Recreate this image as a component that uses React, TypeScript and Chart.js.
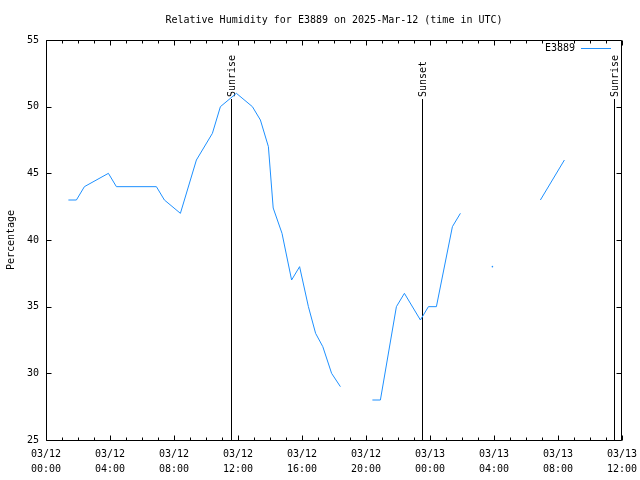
import React, { useEffect, useRef } from "react";
import { Chart, registerables } from "chart.js";

Chart.register(...registerables);

// ---- Data ----
const titleText = "Relative Humidity for E3889 on 2025-Mar-12 (time in UTC)";
const seriesLabel = "E3889";
const yAxisTitle = "Percentage";

// hours since 2025-03-12 00:00 UTC
const hours = [
  1.4, 1.9, 2.4, 3.9, 4.4, 6.9, 7.4, 8.4, 9.4, 10.4,
  10.9, 11.9, 12.9, 13.4, 13.9, 14.2, 14.75, 15.35, 15.85, 16.4,
  16.85, 17.3, 17.85, 18.4, 19.4, 20.4, 20.9, 21.9, 22.4, 23.4,
  23.9, 24.4, 25.4, 25.9, 26.9, 27.9, 28.9, 30.9, 32.4,
];
const humidity: (number | null)[] = [
  43, 43, 44, 45, 44, 44, 43, 42, 46, 48,
  50, 51, 50, 49, 47, 42.4, 40.5, 37, 38, 35,
  33, 32, 30, 29, null, 28, 28, 35, 36, 34,
  35, 35, 41, 42, null, 38, null, 43, 46,
];

const tickHours = [0, 4, 8, 12, 16, 20, 24, 28, 32, 36];
const tickDates = ["03/12", "03/12", "03/12", "03/12", "03/12", "03/12", "03/13", "03/13", "03/13", "03/13"];
const tickTimes = ["00:00", "04:00", "08:00", "12:00", "16:00", "20:00", "00:00", "04:00", "08:00", "12:00"];

const sunEventHours = [11.55, 23.5, 35.48];
const sunEventLabels = ["Sunrise", "Sunset", "Sunrise"];
const sunLineTop = 50.6;

const xMin = 0;
const xMax = 36;
const yMin = 25;
const yMax = 55;
const yStep = 5;

const lineColor = "#1e90ff";
const FONT = "DejaVu Sans Mono";

const al = (v: number) => Math.round(v) + 0.5;

const decorPlugin = {
  id: "decor",
  beforeDatasetsDraw(chart: any) {
    const { ctx, chartArea, scales } = chart;
    const { left, right, top, bottom } = chartArea;
    const xs = scales.x;
    const ys = scales.y;
    ctx.save();
    ctx.strokeStyle = "#000";
    ctx.lineWidth = 1;
    const L = al(left), R = al(right - 1), T = al(top), B = al(bottom);
    ctx.beginPath();
    ctx.rect(L, T, R - L, B - T);
    ctx.stroke();

    ctx.beginPath();
    // x ticks: minor each hour, major every 4 h
    for (let h = xMin; h <= xMax; h += 1) {
      const px = al(xs.getPixelForValue(h));
      const len = h % 4 === 0 ? 5 : 3;
      ctx.moveTo(px, B);
      ctx.lineTo(px, B - len);
      ctx.moveTo(px, T);
      ctx.lineTo(px, T + len);
    }
    // y ticks
    for (let v = yMin; v <= yMax; v += yStep) {
      const py = al(ys.getPixelForValue(v));
      ctx.moveTo(L, py);
      ctx.lineTo(L + 5, py);
      ctx.moveTo(R, py);
      ctx.lineTo(R - 5, py);
    }
    ctx.stroke();

    // sun events
    ctx.fillStyle = "#000";
    ctx.font = `10px "${FONT}"`;
    sunEventHours.forEach((h, i) => {
      const px = al(xs.getPixelForValue(h));
      const pTop = Math.round(ys.getPixelForValue(sunLineTop));
      ctx.beginPath();
      ctx.moveTo(px, pTop);
      ctx.lineTo(px, B);
      ctx.stroke();
      ctx.save();
      ctx.translate(px + 1, pTop - 2);
      ctx.rotate(-Math.PI / 2);
      ctx.textAlign = "left";
      ctx.textBaseline = "middle";
      ctx.fillText(sunEventLabels[i], 0, 0);
      ctx.restore();
    });

    // title
    ctx.textAlign = "center";
    ctx.textBaseline = "middle";
    ctx.fillText(titleText, (left + right) / 2, 20);

    // y axis title
    ctx.save();
    ctx.translate(11, (top + bottom) / 2);
    ctx.rotate(-Math.PI / 2);
    ctx.textAlign = "center";
    ctx.textBaseline = "middle";
    ctx.fillText(yAxisTitle, 0, 0);
    ctx.restore();

    // legend
    ctx.textAlign = "right";
    ctx.textBaseline = "middle";
    ctx.fillText(seriesLabel, 575, 48);
    ctx.strokeStyle = lineColor;
    ctx.beginPath();
    ctx.moveTo(581, 48.5);
    ctx.lineTo(611, 48.5);
    ctx.stroke();
    ctx.restore();
  },
};

export default function App() {
  const canvasRef = useRef<HTMLCanvasElement | null>(null);

  useEffect(() => {
    document.body.style.margin = "0";
    const canvas = canvasRef.current;
    if (!canvas) return;
    const points = hours.map((h, i) => ({ x: h, y: humidity[i] }));
    const chart = new Chart(canvas, {
      type: "line",
      data: {
        datasets: [
          {
            label: seriesLabel,
            data: points as any,
            borderColor: lineColor,
            backgroundColor: lineColor,
            borderWidth: 1,
            tension: 0,
            spanGaps: false,
            pointBorderWidth: 0,
            pointRadius: (c: any) => {
              const i = c.dataIndex;
              if (humidity[i] == null) return 0;
              const prevNull = i === 0 || humidity[i - 1] == null;
              const nextNull = i === humidity.length - 1 || humidity[i + 1] == null;
              return prevNull && nextNull ? 0.8 : 0;
            },
          },
        ],
      },
      options: {
        responsive: false,
        animation: false,
        events: [],
        layout: { padding: { top: 40, right: 18, left: 0, bottom: 0 } },
        plugins: {
          legend: { display: false },
          title: { display: false },
          tooltip: { enabled: false },
        },
        scales: {
          x: {
            type: "linear",
            min: xMin,
            max: xMax,
            grid: { display: false, drawTicks: false },
            border: { display: false },
            ticks: {
              stepSize: 4,
              padding: 6.5,
              maxRotation: 0,
              autoSkip: false,
              color: "#000",
              font: { family: FONT, size: 10, lineHeight: 1.5 },
              callback: (value: any) => {
                const i = tickHours.indexOf(Number(value));
                return i >= 0 ? [tickDates[i], tickTimes[i]] : "";
              },
            },
            afterFit: (s: any) => {
              s.height = 40;
              s.paddingLeft = 0;
              s.paddingRight = 0;
            },
          },
          y: {
            type: "linear",
            min: yMin,
            max: yMax,
            grid: { display: false, drawTicks: false },
            border: { display: false },
            ticks: {
              stepSize: yStep,
              padding: 7,
              color: "#000",
              font: { family: FONT, size: 10 },
            },
            afterFit: (s: any) => {
              s.width = 46;
              s.paddingTop = 0;
              s.paddingBottom = 0;
            },
          },
        },
      },
      plugins: [decorPlugin],
    });
    return () => chart.destroy();
  }, []);

  return (
    <div style={{ width: 640, height: 480, background: "#fff" }}>
      <canvas ref={canvasRef} width={640} height={480} />
    </div>
  );
}
